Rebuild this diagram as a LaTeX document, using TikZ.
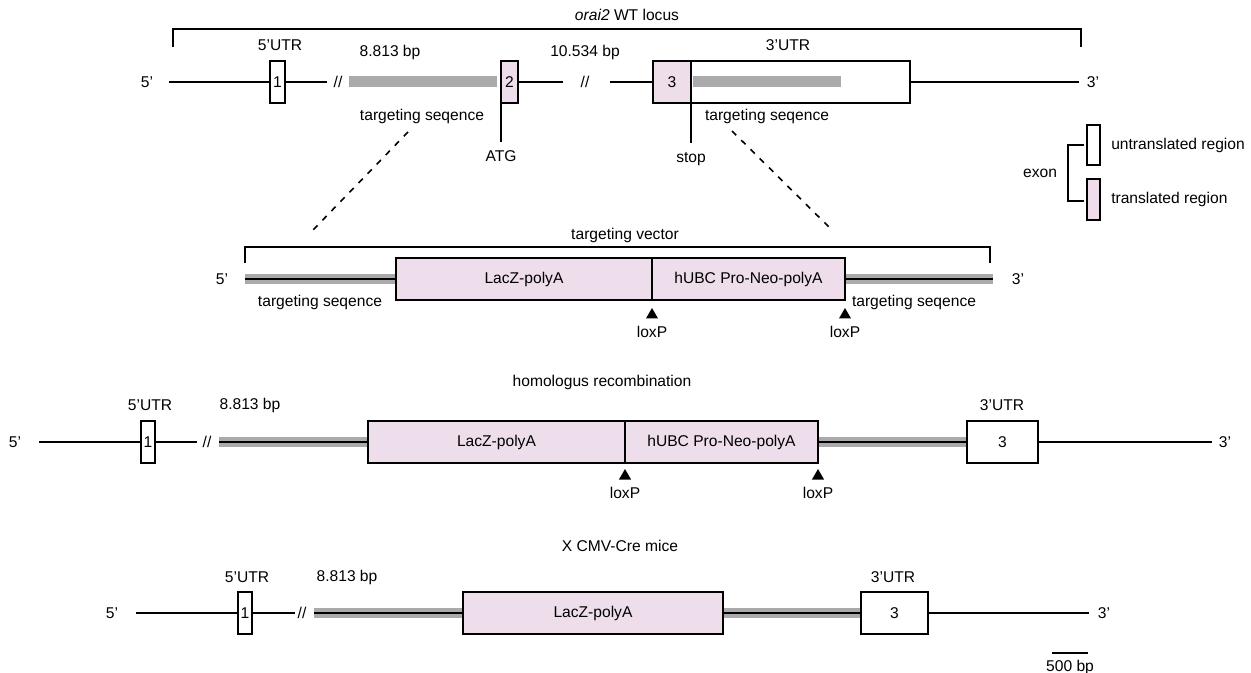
\documentclass[tikz,border=0pt]{standalone}
\usepackage{fontspec}
\setmainfont{Liberation Sans}
\usetikzlibrary{positioning,shapes.geometric}
\definecolor{transl}{RGB}{238,222,236}
\definecolor{tseqgray}{RGB}{170,170,172}

\begin{document}
\begin{tikzpicture}[
  x=0.5pt, y=-0.5pt,
  font=\fontsize{7.8}{9}\selectfont,
  dna/.style={line width=1pt},
  brack/.style={line width=1.2pt},
  exon/.style={draw,line width=1.2pt,fill=white,inner sep=0pt,minimum height=21pt},
  cds/.style={exon,fill=transl},
  tseq/.style={line width=5pt,tseqgray},
  tbar/.style={fill=tseqgray,inner sep=0pt,minimum height=5.5pt},
  loxp/.style={regular polygon,regular polygon sides=3,fill,inner sep=0pt,minimum size=7pt},
  brk/.style={inner sep=0pt},
  dashline/.style={line width=0.8pt,dash pattern=on 3pt off 3.5pt}
  ]
  \useasboundingbox (0,0) rectangle (1251,673);

  \node (ttla) at (627,15) {\textit{orai2} WT locus};
  \coordinate (bla) at (173,47);
  \coordinate (bra) at (1081,47);
  \draw[brack] (bla) -- ++(0,-18) -| (bra);

  \node (end5a) at (147,82) {5’};
  \coordinate (a0) at (169,82);
  \node[exon,minimum width=7.5pt] (ex1a) at (277.5,82) {1};
  \coordinate (a1) at (327,82);
  \node[brk] (sla) at (338,82) {//};
  \node[tbar,minimum width=74pt] (tbl) at (423,82) {};
  \node[cds,minimum width=8.5pt] (ex2a) at (509.5,82) {2};
  \coordinate (a2) at (563,82);
  \node[brk] (slb) at (585,82) {//};
  \coordinate (a3) at (610,82);
  \node[cds,minimum width=19pt] (ex3a) at (672,82) {3};
  \node[exon,minimum width=109.5pt] (utr3a) at (800.5,82) {};
  \node[tbar,minimum width=74pt] (tbr) at (767,82) {};
  \coordinate (a4) at (1079,82);
  \node (end3a) at (1093,82) {3’};
  \draw[dna] (a0) -- (ex1a) (ex1a) -- (a1) (ex2a) -- (a2) (a3) -- (ex3a) (utr3a) -- (a4);

  \node (utr5lbla) at (280,45) {5’UTR};
  \node (bp1a) at (390,52) {8.813 bp};
  \node (bp2a) at (585,52) {10.534 bp};
  \node (utr3lbla) at (788,45) {3’UTR};
  \node (tsla) at (422,116) {targeting seqence};
  \node (tsra) at (767,116) {targeting seqence};

  \coordinate (atgtop) at (501,103);
  \draw[dna] (atgtop) -- ++(0,39) coordinate (atg);
  \node[below=1pt of atg] (atglbl) {ATG};
  \coordinate (stoptop) at (691,103);
  \draw[dna] (stoptop) -- ++(0,40) coordinate (stop);
  \node[below=1pt of stop] (stoplbl) {stop};

  \coordinate (dl1) at (408,132);
  \coordinate (dl2) at (313,230);
  \coordinate (dr1) at (732,131);
  \coordinate (dr2) at (832,230);
  \draw[dashline] (dl1) -- (dl2) (dr1) -- (dr2);

  \node[exon,minimum width=6.5pt,minimum height=20pt] (lgu) at (1093.5,145) {};
  \node[cds,minimum width=6.5pt,minimum height=20.5pt] (lgt) at (1093.5,199.5) {};
  \node[right=1.5pt of lgu] (lgulbl) {untranslated region};
  \node[right=1.5pt of lgt] (lgtlbl) {translated region};
  \coordinate (lgb1) at (1084,145);
  \coordinate (lgb2) at (1084,201);
  \draw[brack] (lgb1) -- ++(-16,0) |- (lgb2);
  \node[anchor=east] (exonlbl) at (1064,173) {exon};

  \node (ttlb) at (625,235) {targeting vector};
  \coordinate (blb) at (245,263);
  \coordinate (brb) at (990,263);
  \draw[brack] (blb) -- ++(0,-16) -| (brb);

  \node (end5b) at (222,279) {5’};
  \coordinate (b0) at (245,279);
  \node[cds,minimum width=128pt] (laczb) at (524,279) {LacZ-polyA};
  \node[cds,minimum width=96.5pt] (neob) at (748.5,279) {hUBC Pro-Neo-polyA};
  \coordinate (b1) at (993,279);
  \node (end3b) at (1018,279) {3’};
  \draw[tseq] (b0) -- (laczb) (neob) -- (b1);
  \draw[dna] (b0) -- (laczb) (neob) -- (b1);
  \node (tslb) at (320,302) {targeting seqence};
  \node (tsrb) at (914,302) {targeting seqence};
  \node[loxp] (lx1b) at (652,315) {};
  \node[below=0pt of lx1b] {loxP};
  \node[loxp] (lx2b) at (845,315) {};
  \node[below=0pt of lx2b] {loxP};

  \node (ttlc) at (602,382) {homologus recombination};
  \node (end5c) at (15,442) {5’};
  \coordinate (c0) at (39,442);
  \node[exon,minimum width=7pt] (ex1c) at (148,442) {1};
  \coordinate (c1) at (197,442);
  \node[brk] (slc) at (207,442) {//};
  \coordinate (c2) at (219,442);
  \node[cds,minimum width=128.5pt] (laczc) at (496.5,442) {LacZ-polyA};
  \node[cds,minimum width=96.5pt] (neoc) at (721.5,442) {hUBC Pro-Neo-polyA};
  \node[exon,minimum width=35.5pt] (ex3c) at (1002.5,442) {3};
  \coordinate (c3) at (1212,442);
  \node (end3c) at (1225,442) {3’};
  \draw[dna] (c0) -- (ex1c) (ex1c) -- (c1) (ex3c) -- (c3);
  \draw[tseq] (c2) -- (laczc) (neoc) -- (ex3c);
  \draw[dna] (c2) -- (laczc) (neoc) -- (ex3c);
  \node (utr5lblc) at (150,405) {5’UTR};
  \node (bp1c) at (250,405) {8.813 bp};
  \node (utr3lblc) at (1002,405) {3’UTR};
  \node[loxp] (lx1c) at (625,476) {};
  \node[below=0pt of lx1c] {loxP};
  \node[loxp] (lx2c) at (818,476) {};
  \node[below=0pt of lx2c] {loxP};

  \node (ttld) at (620,546) {X CMV-Cre mice};
  \node (end5d) at (112,613) {5’};
  \coordinate (d0) at (136,613);
  \node[exon,minimum width=7pt] (ex1d) at (245,613) {1};
  \coordinate (d1) at (295,613);
  \node[brk] (sld) at (302,613) {//};
  \coordinate (d2) at (314,613);
  \node[cds,minimum width=130pt] (laczd) at (593,613) {LacZ-polyA};
  \node[exon,minimum width=33.5pt] (ex3d) at (894.5,613) {3};
  \coordinate (d3) at (1089,613);
  \node (end3d) at (1104,613) {3’};
  \draw[dna] (d0) -- (ex1d) (ex1d) -- (d1) (ex3d) -- (d3);
  \draw[tseq] (d2) -- (laczd) (laczd) -- (ex3d);
  \draw[dna] (d2) -- (laczd) (laczd) -- (ex3d);
  \node (utr5lbld) at (247,577) {5’UTR};
  \node (bp1d) at (347,577) {8.813 bp};
  \node (utr3lbld) at (893,577) {3’UTR};

  \coordinate (sb1) at (1052,653);
  \coordinate (sb2) at (1088,653);
  \draw[dna] (sb1) -- (sb2);
  \node (sblbl) at (1070,667) {500 bp};
\end{tikzpicture}
\end{document}
